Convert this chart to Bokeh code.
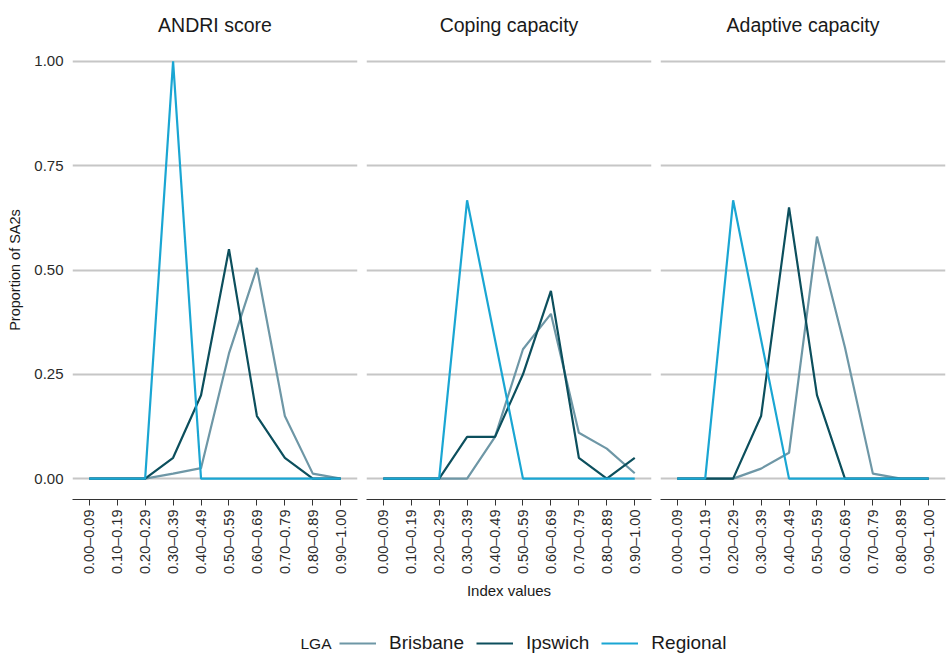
import math
from bokeh.plotting import figure
from bokeh.models import (Range1d, FixedTicker, NumeralTickFormatter, Legend,
                          LegendItem, Label)
from bokeh.layouts import row, column
from bokeh.embed import file_html
from bokeh.resources import INLINE

# ---------------- data ----------------
categories = ["0.00\u20130.09", "0.10\u20130.19", "0.20\u20130.29", "0.30\u20130.39",
              "0.40\u20130.49", "0.50\u20130.59", "0.60\u20130.69", "0.70\u20130.79",
              "0.80\u20130.89", "0.90\u20131.00"]
panel_titles = ["ANDRI score", "Coping capacity", "Adaptive capacity"]
lgas = ["Brisbane", "Ipswich", "Regional"]
legend_title = "LGA"

andri_brisbane = [0, 0, 0, 0.012, 0.025, 0.30, 0.505, 0.15, 0.012, 0]
andri_ipswich = [0, 0, 0, 0.05, 0.20, 0.55, 0.15, 0.05, 0, 0]
andri_regional = [0, 0, 0, 1.0, 0, 0, 0, 0, 0, 0]

coping_brisbane = [0, 0, 0, 0, 0.10, 0.31, 0.395, 0.11, 0.072, 0.013]
coping_ipswich = [0, 0, 0, 0.10, 0.10, 0.25, 0.45, 0.05, 0, 0.05]
coping_regional = [0, 0, 0, 0.667, 0.333, 0, 0, 0, 0, 0]

adaptive_brisbane = [0, 0, 0, 0.024, 0.062, 0.58, 0.315, 0.012, 0, 0]
adaptive_ipswich = [0, 0, 0, 0.15, 0.65, 0.20, 0, 0, 0, 0]
adaptive_regional = [0, 0, 0.667, 0.333, 0, 0, 0, 0, 0, 0]

y_ticks = [0, 0.25, 0.5, 0.75, 1.0]

series = [
    [andri_brisbane, andri_ipswich, andri_regional],
    [coping_brisbane, coping_ipswich, coping_regional],
    [adaptive_brisbane, adaptive_ipswich, adaptive_regional],
]
colors = ["#6e97a6", "#0c4f5d", "#1aa6d3"]

FONT = "Liberation Sans"
xs = list(range(1, len(categories) + 1))
overrides = {i + 1: c for i, c in enumerate(categories)}

borders = [(72, 4), (5, 4), (5, 1)]
figs = []
for k, title in enumerate(panel_titles):
    bl, br = borders[k]
    p = figure(frame_width=285, frame_height=459,
               x_range=Range1d(0.4, 10.6), y_range=Range1d(-0.05, 1.05),
               output_backend="svg", toolbar_location=None,
               y_axis_location="left" if k == 0 else None,
               min_border_left=bl, min_border_right=br,
               min_border_top=40, min_border_bottom=108)
    p.title.text = title
    p.title.align = "center"
    p.title.text_font = FONT
    p.title.text_font_size = "19.5px"
    p.title.text_font_style = "normal"
    p.title.text_color = "#1a1a1a"
    p.title.standoff = 10
    p.outline_line_color = None
    p.xgrid.grid_line_color = None
    p.ygrid.grid_line_color = "#c6c6c6"
    p.ygrid.grid_line_width = 2
    p.ygrid.ticker = FixedTicker(ticks=y_ticks)

    xa = p.xaxis[0]
    xa.ticker = FixedTicker(ticks=xs)
    xa.major_label_overrides = overrides
    xa.major_label_orientation = math.pi / 2
    xa.major_label_text_font = FONT
    xa.major_label_text_font_size = "14.5px"
    xa.major_label_text_color = "#2b2b2b"
    xa.major_label_standoff = 4
    xa.axis_line_color = "#333333"
    xa.axis_line_width = 1
    xa.major_tick_line_color = "#333333"
    xa.major_tick_in = 0
    xa.major_tick_out = 6
    xa.minor_tick_line_color = None
    if k == 1:
        xa.axis_label = "Index values"
        xa.axis_label_text_font = FONT
        xa.axis_label_text_font_size = "15px"
        xa.axis_label_text_font_style = "normal"
        xa.axis_label_text_color = "#1a1a1a"
        xa.axis_label_standoff = 5

    if k == 0:
        ya = p.yaxis[0]
        ya.ticker = FixedTicker(ticks=y_ticks)
        ya.formatter = NumeralTickFormatter(format="0.00")
        ya.axis_line_color = None
        ya.major_tick_line_color = None
        ya.minor_tick_line_color = None
        ya.major_tick_out = 0
        ya.major_tick_in = 0
        ya.major_label_standoff = 9
        ya.major_label_text_font = FONT
        ya.major_label_text_font_size = "15px"
        ya.major_label_text_color = "#2b2b2b"
        ya.axis_label = "Proportion of SA2s"
        ya.axis_label_text_font = FONT
        ya.axis_label_text_font_size = "14.5px"
        ya.axis_label_text_font_style = "normal"
        ya.axis_label_text_color = "#1a1a1a"
        ya.axis_label_standoff = 8

    for j, vals in enumerate(series[k]):
        p.line(xs, vals, line_color=colors[j], line_width=2.2)
    figs.append(p)

# ---------------- legend strip ----------------
lg = figure(width=946, height=48, x_range=Range1d(0, 1), y_range=Range1d(0, 1),
            output_backend="svg", toolbar_location=None,
            min_border=0, min_border_left=0, min_border_right=0,
            min_border_top=0, min_border_bottom=0)
lg.axis.visible = False
lg.grid.visible = False
lg.outline_line_color = None
items = []
nan = float("nan")
for j, name in enumerate(lgas):
    r = lg.line(x=[nan, nan], y=[nan, nan], line_color=colors[j], line_width=2.2)
    items.append(LegendItem(label=name, renderers=[r]))
legend = Legend(items=items, orientation="horizontal")
legend.location = (339, 1)
legend.padding = 0
legend.margin = 0
legend.border_line_color = None
legend.background_fill_alpha = 0
legend.label_text_font = FONT
legend.label_text_font_size = "19px"
legend.label_text_color = "#1a1a1a"
legend.label_standoff = 13
legend.glyph_width = 37
legend.spacing = 12
lg.add_layout(legend, "center")
lg.add_layout(Label(x=300, y=4, x_units="screen", y_units="screen",
                    text=legend_title, text_font=FONT, text_font_size="15.5px",
                    text_color="#1a1a1a"))

layout = column(row(*figs, spacing=0), lg, spacing=0)

open("out.html", "w").write(file_html(layout, INLINE))
